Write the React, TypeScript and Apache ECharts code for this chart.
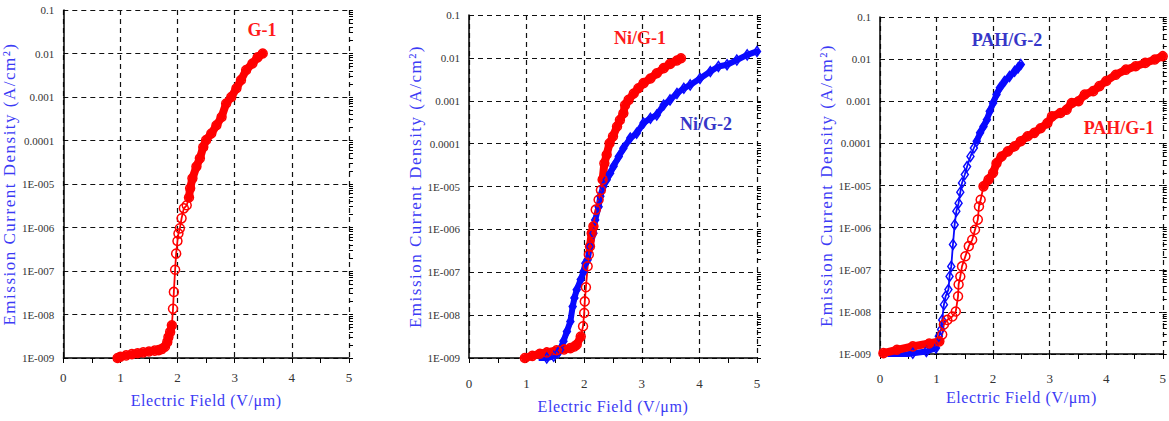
import React, { useEffect, useRef } from "react";
import * as echarts from "echarts";

// ---------- data (x: electric field V/µm, logJ: log10 of current density A/cm²) ----------
const G1_X = [0.95, 1.0, 1.1, 1.2, 1.3, 1.4, 1.5, 1.6, 1.67, 1.73, 1.78, 1.82, 1.84, 1.87, 1.9, 1.92, 1.935, 1.957, 1.975, 1.998, 2.015, 2.04, 2.07, 2.11, 2.16, 2.2, 2.22, 2.26, 2.33, 2.39, 2.45, 2.5, 2.59, 2.68, 2.77, 2.85, 2.94, 3.03, 3.11, 3.2, 3.31, 3.4, 3.49];
const G1_LOGJ = [-9.0, -8.97, -8.94, -8.91, -8.89, -8.87, -8.85, -8.83, -8.82, -8.79, -8.74, -8.63, -8.52, -8.4, -8.25, -7.87, -7.48, -6.97, -6.6, -6.31, -6.14, -6.02, -5.79, -5.56, -5.49, -5.31, -5.1, -4.87, -4.6, -4.41, -4.15, -3.99, -3.84, -3.65, -3.46, -3.15, -3.0, -2.8, -2.61, -2.38, -2.23, -2.09, -2.0];

const NIG1_X = [0.97, 1.1, 1.23, 1.35, 1.52, 1.65, 1.76, 1.83, 1.87, 1.94, 1.98, 2.0, 2.01, 2.03, 2.06, 2.08, 2.1, 2.13, 2.16, 2.2, 2.25, 2.29, 2.32, 2.35, 2.39, 2.44, 2.5, 2.57, 2.62, 2.68, 2.71, 2.77, 2.86, 2.94, 3.03, 3.15, 3.26, 3.38, 3.49, 3.61, 3.68];
const NIG1_LOGJ = [-9.0, -8.95, -8.9, -8.87, -8.82, -8.8, -8.77, -8.73, -8.69, -8.5, -8.26, -7.95, -7.68, -7.35, -6.86, -6.59, -6.4, -6.09, -5.93, -5.54, -5.31, -5.08, -4.84, -4.46, -4.26, -3.99, -3.83, -3.6, -3.45, -3.29, -3.1, -2.98, -2.83, -2.71, -2.59, -2.48, -2.36, -2.24, -2.14, -2.06, -2.01];

const NIG2_X = [1.26, 1.35, 1.47, 1.55, 1.58, 1.64, 1.7, 1.76, 1.8, 1.83, 1.87, 1.94, 1.99, 2.02, 2.06, 2.1, 2.16, 2.19, 2.25, 2.28, 2.33, 2.39, 2.45, 2.51, 2.6, 2.68, 2.8, 2.91, 3.03, 3.15, 3.26, 3.38, 3.49, 3.61, 3.73, 3.84, 4.01, 4.19, 4.33, 4.48, 4.65, 4.83, 5.0];
const NIG2_LOGJ = [-9.04, -9.0, -8.96, -8.88, -8.81, -8.61, -8.38, -8.15, -7.8, -7.6, -7.41, -7.17, -6.98, -6.79, -6.71, -6.4, -6.09, -5.78, -5.47, -5.23, -5.0, -4.84, -4.69, -4.53, -4.3, -4.11, -3.87, -3.76, -3.52, -3.41, -3.33, -3.1, -2.98, -2.83, -2.71, -2.63, -2.48, -2.32, -2.2, -2.16, -2.05, -1.93, -1.85];

const PAHG2_X = [0.12, 0.18, 0.35, 0.58, 0.82, 0.99, 1.04, 1.08, 1.1, 1.13, 1.16, 1.21, 1.23, 1.26, 1.29, 1.32, 1.35, 1.39, 1.42, 1.45, 1.5, 1.54, 1.6, 1.66, 1.71, 1.77, 1.83, 1.89, 1.94, 2.0, 2.06, 2.12, 2.2, 2.29, 2.38, 2.44, 2.49];
const PAHG2_LOGJ = [-9.13, -9.08, -9.04, -8.98, -8.94, -8.86, -8.58, -8.42, -8.19, -7.83, -7.63, -7.47, -7.16, -6.92, -6.4, -5.93, -5.61, -5.42, -5.16, -4.94, -4.74, -4.55, -4.31, -4.11, -3.95, -3.75, -3.6, -3.44, -3.24, -3.04, -2.84, -2.68, -2.53, -2.41, -2.29, -2.21, -2.13];

const PAHG1_X = [0.06, 0.3, 0.58, 0.87, 1.05, 1.1, 1.13, 1.19, 1.28, 1.34, 1.38, 1.39, 1.42, 1.45, 1.51, 1.57, 1.63, 1.68, 1.73, 1.75, 1.78, 1.83, 1.92, 2.0, 2.06, 2.15, 2.26, 2.38, 2.49, 2.61, 2.73, 2.84, 2.96, 3.04, 3.19, 3.3, 3.39, 3.51, 3.62, 3.77, 3.88, 4.0, 4.17, 4.35, 4.52, 4.69, 4.86, 5.0];
const PAHG1_LOGJ = [-8.98, -8.9, -8.82, -8.75, -8.7, -8.54, -8.3, -8.19, -8.11, -7.99, -7.63, -7.35, -7.16, -6.92, -6.68, -6.44, -6.29, -6.05, -5.81, -5.5, -5.34, -5.02, -4.86, -4.7, -4.47, -4.31, -4.19, -4.07, -3.95, -3.83, -3.75, -3.64, -3.52, -3.36, -3.28, -3.2, -3.04, -3.0, -2.84, -2.76, -2.64, -2.52, -2.37, -2.25, -2.17, -2.09, -2.01, -1.93];

// tick labels for log10 values -9 .. -1
const Y_TICK_LABELS = ["1E-009", "1E-008", "1E-007", "1E-006", "1E-005", "0.0001", "0.001", "0.01", "0.1"];
const X_TICK_LABELS = ["0", "1", "2", "3", "4", "5"];

// index ranges where the markers merge into a solid band
const G1_BANDS = [[0, 14], [25, 42]];
const NIG1_BANDS = [[0, 9], [16, 18], [22, 40]];
const NIG2_BANDS = [[0, 42]];
const PAHG2_BANDS = [[1, 5], [24, 36]];
const PAHG1_BANDS = [[0, 4], [21, 47]];

const SERIF = '"Liberation Serif", "Times New Roman", serif';
const RED = "#ff0000";
const BLUE = "#0a0aff";
const Y_NAME_COLOR = "#3b3bf5";
const X_NAME_COLOR = "#3b3bf4";

// minor tick positions (log10 of k*10^n)
const Y_MINOR: number[] = [];
for (let n = -9; n <= -2; n++) {
  for (let k = 1; k <= 9; k++) Y_MINOR.push(n + Math.log10(k));
}
Y_MINOR.push(-1);

const pts = (xs: number[], ys: number[]) => xs.map((x, i) => [x, ys[i]]);

const GRIDS = [
  { left: 60, top: 10, width: 289, height: 348, labelMargin: 13, nameGap: 34, yNameGap: 36 },
  { left: 469, top: 15, width: 288, height: 343, labelMargin: 19, nameGap: 40, yNameGap: 34 },
  { left: 880, top: 17, width: 288, height: 337, labelMargin: 18, nameGap: 29, yNameGap: 36 },
];

export default function App() {
  const ref = useRef<HTMLDivElement>(null);

  useEffect(() => {
    if (!ref.current) return;
    const chart = echarts.init(ref.current, null, { renderer: "svg" });

    const grid = GRIDS.map((g) => ({ left: g.left, top: g.top, width: g.width, height: g.height }));

    const dashed = { show: true, lineStyle: { color: "#111", width: 1.2, type: [5, 4] as any } };

    const xAxis = GRIDS.map((g, i) => ({
      type: "value",
      gridIndex: i,
      min: 0,
      max: 5,
      interval: 1,
      axisLine: { show: true, onZero: false, lineStyle: { color: "#000", width: 1.5 } },
      axisTick: { show: true, length: 5, lineStyle: { color: "#000" } },
      minorTick: { show: true, splitNumber: 2, length: 5, lineStyle: { color: "#000" } },
      axisLabel: {
        margin: g.labelMargin,
        fontSize: 13,
        color: "#333",
        fontFamily: SERIF,
        formatter: (v: number) => X_TICK_LABELS[Math.round(v)] ?? "",
      },
      splitLine: dashed,
      name: "Electric Field (V/\u03bcm)",
      nameLocation: "middle",
      nameGap: g.nameGap,
      nameTextStyle: { color: X_NAME_COLOR, fontSize: 16, fontFamily: SERIF },
    }));

    const yMain = GRIDS.map((g, i) => ({
      type: "value",
      gridIndex: i,
      min: -9,
      max: -1,
      interval: 1,
      axisLine: { show: true, onZero: false, lineStyle: { color: "#000", width: 1.5 } },
      axisTick: { show: false },
      axisLabel: {
        margin: 9,
        fontSize: 11,
        color: "#333",
        fontFamily: SERIF,
        formatter: (v: number) => Y_TICK_LABELS[Math.round(v) + 9] ?? "",
      },
      splitLine: dashed,
      name: "Emission Current Density (A/cm\u00b2)",
      nameLocation: "middle",
      nameGap: g.yNameGap,
      nameTextStyle: { color: Y_NAME_COLOR, fontSize: 17, fontFamily: SERIF },
    }));

    const yTicks = GRIDS.map((g, i) => ({
      type: "value",
      gridIndex: i,
      min: -9,
      max: -1,
      interval: 1,
      axisLine: { show: true, onZero: false, lineStyle: { color: "#000", opacity: 0 } },
      axisTick: { show: true, length: 4, customValues: Y_MINOR, lineStyle: { color: "#000" } },
      axisLabel: { show: false },
      splitLine: { show: false },
    }));

    const markerSeries = (
      name: string,
      xs: number[],
      ys: number[],
      idx: number,
      color: string,
      symbol: string,
      size: any
    ) => ({
      name,
      type: "line",
      xAxisIndex: idx,
      yAxisIndex: idx,
      data: pts(xs, ys),
      symbol,
      symbolSize: size,
      showAllSymbol: true,
      itemStyle: { color: "rgba(255,255,255,0)", borderColor: color, borderWidth: 1.5 },
      lineStyle: { color, width: 1.8 },
    });

    const bands = (name: string, xs: number[], ys: number[], ranges: number[][], idx: number, color: string, w: number) =>
      ranges.map(([a, b], k) => ({
        name: `${name} band ${k}`,
        type: "line",
        xAxisIndex: idx,
        yAxisIndex: idx,
        data: pts(xs.slice(a, b + 1), ys.slice(a, b + 1)),
        symbol: "none",
        lineStyle: { color, width: w, cap: "round", join: "round" },
      }));

    const series = [
      ...bands("G-1", G1_X, G1_LOGJ, G1_BANDS, 0, RED, 8),
      markerSeries("G-1", G1_X, G1_LOGJ, 0, RED, "circle", 9),

      ...bands("Ni/G-2", NIG2_X, NIG2_LOGJ, NIG2_BANDS, 1, BLUE, 6),
      markerSeries("Ni/G-2", NIG2_X, NIG2_LOGJ, 1, BLUE, "diamond", [7, 10]),
      ...bands("Ni/G-1", NIG1_X, NIG1_LOGJ, NIG1_BANDS, 1, RED, 8),
      markerSeries("Ni/G-1", NIG1_X, NIG1_LOGJ, 1, RED, "circle", 9),

      ...bands("PAH/G-2", PAHG2_X, PAHG2_LOGJ, PAHG2_BANDS, 2, BLUE, 6),
      markerSeries("PAH/G-2", PAHG2_X, PAHG2_LOGJ, 2, BLUE, "diamond", [7, 10]),
      ...bands("PAH/G-1", PAHG1_X, PAHG1_LOGJ, PAHG1_BANDS, 2, RED, 8),
      markerSeries("PAH/G-1", PAHG1_X, PAHG1_LOGJ, 2, RED, "circle", 9),
    ];

    const label = (text: string, x: number, y: number, fill: string) => ({
      type: "text",
      x,
      y,
      z: 100,
      style: {
        text,
        fill,
        font: `bold 18px ${SERIF}`,
        textAlign: "center",
        textVerticalAlign: "middle",
        align: "center",
        verticalAlign: "middle",
      },
    });

    chart.setOption({
      animation: false,
      backgroundColor: "#fff",
      grid,
      xAxis,
      yAxis: [...yMain, ...yTicks],
      series,
      graphic: [
        label("G-1", 262, 30, "#ff1a1a"),
        label("Ni/G-1", 640, 38, "#ff1a1a"),
        label("Ni/G-2", 706, 124, "#3636c8"),
        label("PAH/G-2", 1007, 40, "#3636c8"),
        label("PAH/G-1", 1119, 128, "#ff1a1a"),
      ],
    });

    return () => chart.dispose();
  }, []);

  return (
    <>
      <style>{`text[fill="${Y_NAME_COLOR}"]{letter-spacing:1.5px}text[fill="${X_NAME_COLOR}"]{letter-spacing:0.6px}`}</style>
      <div ref={ref} style={{ position: "fixed", left: 0, top: 0, width: 1169, height: 421 }} />
    </>
  );
}
